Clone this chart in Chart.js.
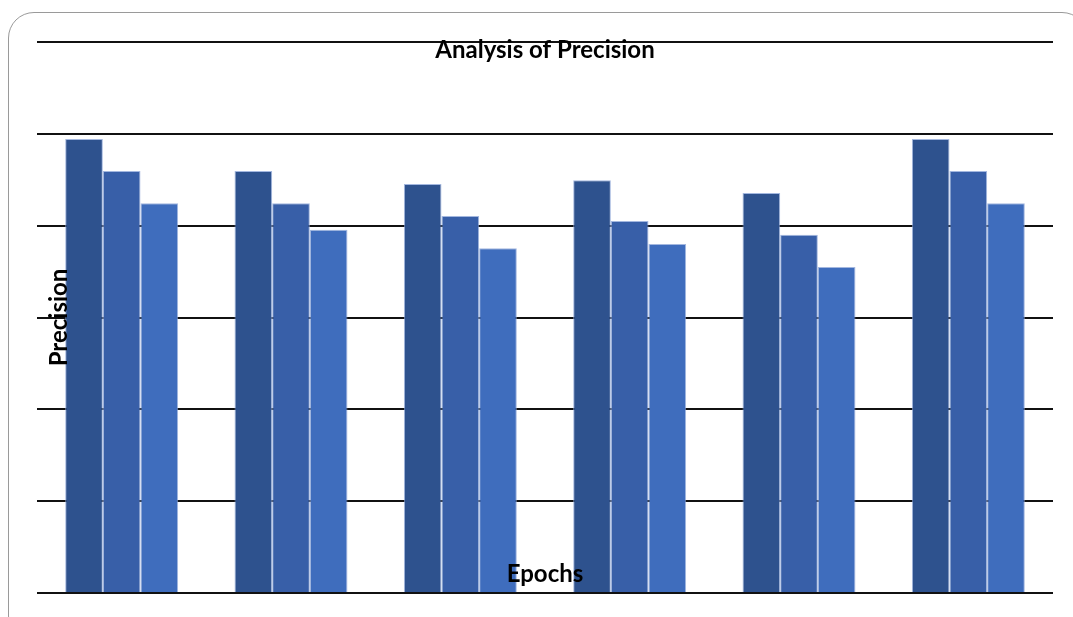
<!DOCTYPE html>
<html lang="en">
<head>
  <meta charset="UTF-8">
  <title>Analysis of Precision</title>
  <script src="https://cdn.jsdelivr.net/npm/chart.js"></script>
  <style>
    html, body { margin: 0; padding: 0; background: #fff; overflow: hidden; }
    #wrap { position: relative; width: 1073px; height: 617px; }
    #frame {
      position: absolute; left: 8px; top: 12px; width: 1080px; height: 630px;
      border: 1.5px solid #9a9a9a; border-radius: 26px; box-sizing: border-box;
    }
    canvas { position: absolute; left: 0; top: 0; }
  </style>
</head>
<body>
  <div id="wrap">
    <div id="frame"></div>
    <canvas id="precChart" width="1073" height="617"></canvas>
  </div>

  <script>
    // epochs (labels are not printed on the original)
    const epochs = ["10", "20", "30", "40", "50", "60"];
    const seriesA = [0.989, 0.919, 0.891, 0.899, 0.871, 0.989];
    const seriesB = [0.919, 0.849, 0.821, 0.810, 0.780, 0.919];
    const seriesC = [0.849, 0.791, 0.751, 0.760, 0.710, 0.849];
    const yTicks = [0, 0.2, 0.4, 0.6, 0.8, 1.0, 1.2];

    const labelsPlugin = {
      id: 'overlayText',
      afterDraw(chart) {
        const { ctx, chartArea } = chart;
        const cx = (chartArea.left + chartArea.right) / 2;
        ctx.save();
        ctx.fillStyle = '#000';
        ctx.textAlign = 'center';
        ctx.textBaseline = 'middle';
        ctx.font = 'bold 24px Lato, "Liberation Sans", sans-serif';
        ctx.fillText('Analysis of Precision', cx, chartArea.top + 8);
        ctx.fillText('Epochs', cx, chartArea.bottom - 19);
        ctx.translate(chartArea.left + 22, (chartArea.top + chartArea.bottom) / 2);
        ctx.rotate(-Math.PI / 2);
        ctx.fillText('Precision', 0, 0);
        ctx.restore();
      }
    };

    const edge = 'rgba(140,165,215,0.8)';

    new Chart(document.getElementById('precChart'), {
      type: 'bar',
      data: {
        labels: epochs,
        datasets: [
          { label: 'Series 1', data: seriesA, backgroundColor: '#2e528e', borderColor: edge, borderWidth: 1 },
          { label: 'Series 2', data: seriesB, backgroundColor: '#385fa8', borderColor: edge, borderWidth: 1 },
          { label: 'Series 3', data: seriesC, backgroundColor: '#3f6dbd', borderColor: edge, borderWidth: 1 }
        ]
      },
      options: {
        responsive: false,
        animation: false,
        layout: { padding: { left: 37, right: 20, top: 42, bottom: 24 } },
        datasets: { bar: { categoryPercentage: 0.667, barPercentage: 1.0 } },
        plugins: {
          legend: { display: false },
          title: { display: false },
          tooltip: { enabled: false }
        },
        scales: {
          x: { display: false },
          y: {
            min: yTicks[0],
            max: yTicks[yTicks.length - 1],
            afterBuildTicks: axis => { axis.ticks = yTicks.map(v => ({ value: v })); },
            ticks: { display: false },
            border: { display: false },
            grid: { color: '#111', lineWidth: 2, drawTicks: false }
          }
        }
      },
      plugins: [labelsPlugin]
    });
  </script>
</body>
</html>
